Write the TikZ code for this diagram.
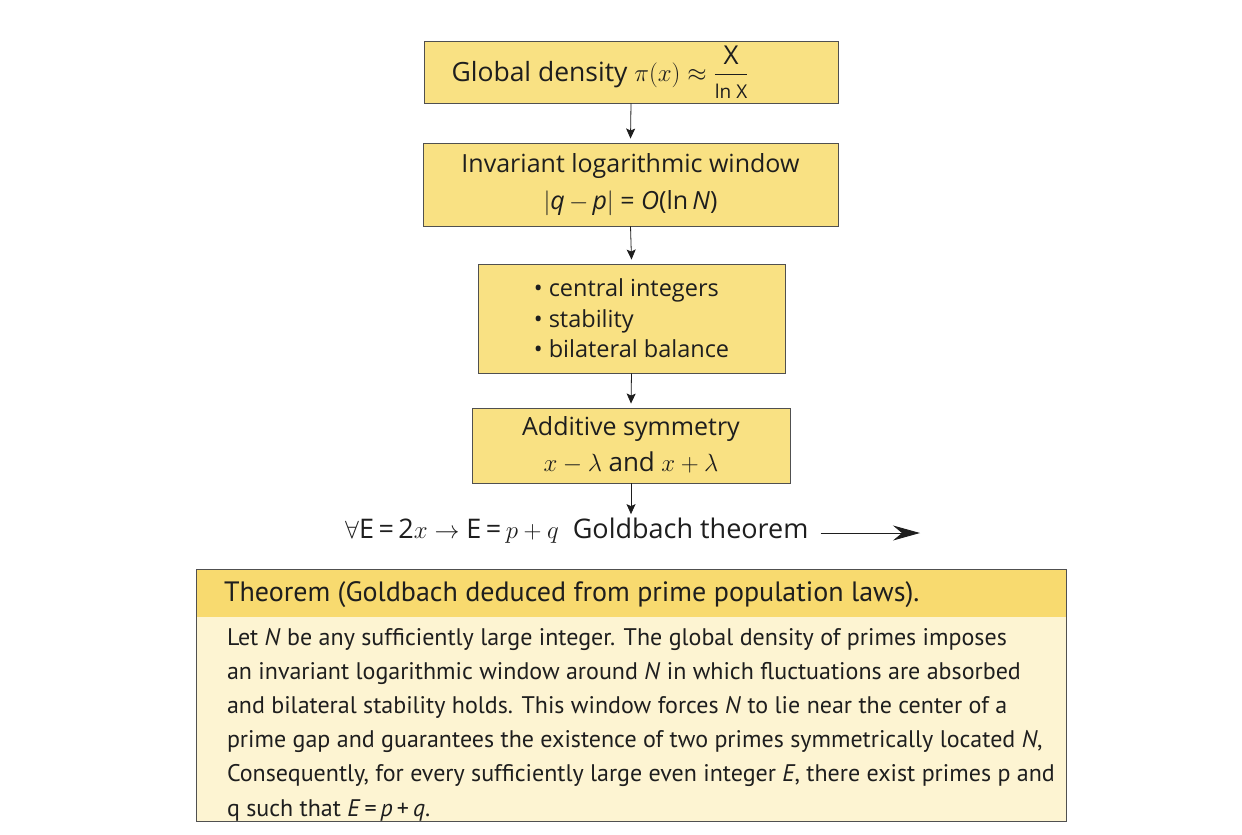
\documentclass[tikz,border=0pt]{standalone}
\usepackage{amsmath}
\usepackage{fontspec}
\setmainfont{PT Sans}
\newfontfamily\flowfont{Open Sans}
\usetikzlibrary{arrows.meta}
\definecolor{boxfill}{HTML}{F9E183}
\definecolor{bandfill}{HTML}{F8DA6F}
\definecolor{bodyfill}{HTML}{FDF4D2}
\definecolor{edge}{HTML}{505050}
\definecolor{ink}{HTML}{1E1E1E}
\tikzset{
  flowbox/.style={draw=edge, line width=0.9pt, fill=boxfill, text=ink, inner sep=0pt, align=center, font=\flowfont},
  flowarrow/.style={draw=ink, line width=0.8pt, -{Stealth[length=10pt,width=9pt,inset=2pt]}},
}
\begin{document}
\begin{tikzpicture}[x=1pt,y=-1pt]
\useasboundingbox (0,0) rectangle (1242,835);
\fill[white] (0,0) rectangle (1242,835);

\node[flowbox, minimum width=414pt, minimum height=62pt] (b1) at (631,72) {};
\node[text=ink, inner sep=0pt, font=\flowfont\fontsize{26.5}{30}\selectfont] (b1t) at (600,72)
  {Global density {\fontsize{29}{30}\selectfont$\pi(x)\approx\dfrac{\text{\fontsize{26}{30}\selectfont X}}{\text{\fontsize{19}{20}\selectfont ln X}}$}};
\node[flowbox, minimum width=415pt, minimum height=83pt, font=\flowfont\fontsize{25}{37}\selectfont] (b2) at (630.5,184.5)
  {Invariant logarithmic window\\ $|$\textit{q}\,$-$\,\textit{p}$|$ = \textit{O}(ln\,\textit{N})};
\node[flowbox, minimum width=307pt, minimum height=109pt, align=left, font=\flowfont\fontsize{23.5}{30.5}\selectfont] (b3) at (631.5,318.5)
  {\textbullet\ central integers\\ \textbullet\ stability\\ \textbullet\ bilateral balance};
\node[flowbox, minimum width=318pt, minimum height=75pt, font=\flowfont\fontsize{25}{36}\selectfont] (b4) at (631,445.5)
  {Additive symmetry\\ {\fontsize{30}{30}\selectfont$x-\lambda$} {\fontsize{26}{30}\selectfont and} {\fontsize{30}{30}\selectfont$x+\lambda$}};

\node[text=ink, inner sep=0pt, anchor=west, font=\flowfont\fontsize{27}{30}\selectfont] (gb) at (345,531)
  {$\forall$E\,=\,2$x\rightarrow{}$E\,=\,$p+q$\ \ Goldbach theorem};
\coordinate (gbend) at (920,533);

\draw[flowarrow] (b1.south) -- ([yshift=4pt]b2.north);
\draw[flowarrow] (b2.south) -- ([yshift=4pt]b3.north);
\draw[flowarrow] (b3.south) -- ([yshift=4pt]b4.north);
\draw[flowarrow] (b4.south) -- ([yshift=4pt]b4.south |- gb.north);
\draw[draw=ink, line width=0.9pt, -{Stealth[length=27pt,width=15pt,inset=9pt]}] ([xshift=12pt,yshift=-2pt]gb.east) -- (gbend);

% theorem box
\node[draw=none, fill=bodyfill, minimum width=869pt, minimum height=251pt, inner sep=0pt] (thm) at (631.5,695.5) {};
\fill[bandfill] (thm.north west) rectangle ([yshift=-47pt]thm.north east);
\coordinate (bandbot) at ([yshift=-47pt]thm.north west);
\draw[edge, line width=1.2pt] (thm.north west) rectangle (thm.south east);
\node[anchor=west, text=ink, inner sep=0pt, font=\fontsize{28}{30}\selectfont] (thmtitle) at ([xshift=27pt,yshift=-25pt]thm.north west)
  {Theorem (Goldbach deduced from prime population laws).};
\node[anchor=north west, text=ink, inner sep=0pt, align=left, font=\fontsize{24}{34.2}\selectfont] (thmbody) at ([xshift=30pt,yshift=-11pt]bandbot)
  {Let \textit{N} be any sufficiently large integer. The global density of primes imposes\\
   an invariant logarithmic window around \textit{N} in which fluctuations are absorbed\\
   and bilateral stability holds. This window forces \textit{N} to lie near the center of a\\
   prime gap and guarantees the existence of two primes symmetrically located \textit{N},\\
   Consequently, for every sufficiently large even integer \textit{E}, there exist primes p and\\
   q such that \textit{E}\,=\,\textit{p}\,+\,\textit{q}.};
\end{tikzpicture}
\end{document}
